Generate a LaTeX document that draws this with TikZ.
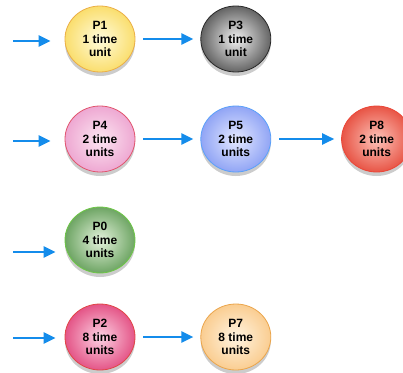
\documentclass[tikz,border=0pt]{standalone}
\usepackage{fontspec}
\setmainfont{Liberation Sans}
\usetikzlibrary{arrows.meta, positioning, shapes.geometric, shadows}

\definecolor{flowblue}{RGB}{20,140,235}

\begin{document}
\begin{tikzpicture}[
        x=1pt, y=-1pt,
        node distance=65pt,
        proc/.style={ellipse, draw, line width=0.8pt, minimum width=70pt, minimum height=66pt, inner sep=0pt, align=center,
            font=\bfseries\fontsize{12}{13.5}\selectfont, shading=radial,
            drop shadow={opacity=0.4, shadow xshift=0pt, shadow yshift=-4pt}},
        tint/.style n args={3}{draw={rgb,255:#1}, inner color={rgb,255:#2}, outer color={rgb,255:#3}},
        flow/.style={-{Triangle[length=12pt, width=11pt]}, line width=2.3pt, flowblue},
        feed/.style={flow, shorten >=14pt},
        link/.style={flow, shorten <=8pt, shorten >=7pt}
    ]
    \useasboundingbox (0,0) rectangle (403,372);
    \clip (0,0) rectangle (403,372);
    \fill[white] (0,0) rectangle (403,372);

    % row 1
    \node[proc, tint={red,235;green,175;blue,70}{red,255;green,252;blue,220}{red,250;green,222;blue,110}] (p1) at (100,39) {P1\\1 time\\unit};
    \node[proc, tint={red,40;green,40;blue,40}{red,240;green,240;blue,240}{red,100;green,100;blue,100}, right=of p1] (p3) {P3\\1 time\\unit};
    \coordinate (in1) at (13,41);
    \draw[feed] (in1) -- (in1 -| p1.west);
    \draw[link] (p1) -- (p3);

    % row 2
    \node[proc, tint={red,225;green,85;blue,110}{red,252;green,230;blue,242}{red,238;green,168;blue,210}] (p4) at (100,139) {P4\\2 time\\units};
    \node[proc, tint={red,90;green,160;blue,250}{red,228;green,232;blue,255}{red,145;green,165;blue,245}, right=of p4] (p5) {P5\\2 time\\units};
    \node[proc, tint={red,235;green,70;blue,55}{red,252;green,195;blue,185}{red,232;green,85;blue,70}, right=70pt of p5] (p8) {P8\\2 time\\units};
    \coordinate (in4) at (13,141);
    \draw[feed] (in4) -- (in4 -| p4.west);
    \draw[link] (p4) -- (p5);
    \draw[link] (p5) -- (p8);

    % row 3
    \node[proc, tint={red,110;green,200;blue,70}{red,228;green,242;blue,220}{red,110;green,165;blue,100}] (p0) at (100,240) {P0\\4 time\\units};
    \coordinate (in0) at (13,252);
    \draw[flow, shorten >=9pt] (in0) -- (in0 -| p0.west);

    % row 4
    \node[proc, tint={red,225;green,70;blue,70}{red,252;green,210;blue,228}{red,228;green,85;blue,135}] (p2) at (100,337) {P2\\8 time\\units};
    \node[proc, tint={red,235;green,165;blue,75}{red,255;green,244;blue,225}{red,250;green,205;blue,145}, right=of p2] (p7) {P7\\8 time\\units};
    \coordinate (in2) at (13,338);
    \draw[flow, shorten >=9pt] (in2) -- (in2 -| p2.west);
    \draw[link] (p2) -- (p7);
\end{tikzpicture}
\end{document}
